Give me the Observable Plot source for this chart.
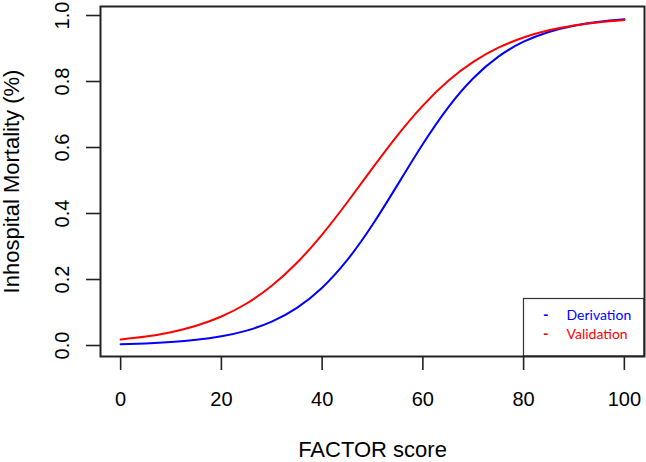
<!DOCTYPE html>
<html><head><meta charset="utf-8">
<script src="https://cdn.jsdelivr.net/npm/d3@7"></script>
<script src="https://cdn.jsdelivr.net/npm/@observablehq/plot@0.6"></script>
<style>
body{margin:0;background:#fff;}
#wrap{position:relative;width:646px;height:462px;}
</style></head><body><div id="wrap"></div>
<script>
const scores = [0,5,10,15,20,25,30,35,40,45,50,55,60,65,70,75,80,85,90,95,100];
const derivation = [0.0039,0.0064,0.0105,0.0171,0.0279,0.0452,0.0724,0.1141,0.1751,0.2592,0.3659,0.4875,0.6106,0.7211,0.8100,0.8754,0.9206,0.9502,0.9692,0.9811,0.9885];
const validation = [0.0180,0.0270,0.0403,0.0598,0.0879,0.1273,0.1809,0.2507,0.3363,0.4341,0.5374,0.6376,0.7271,0.8014,0.8594,0.9025,0.9334,0.9551,0.9698,0.9799,0.9866];
const xTicks = [0,20,40,60,80,100];
const yTicks = [0,0.2,0.4,0.6,0.8,1.0];
const seriesNames = ["Derivation","Validation"];
const seriesColors = ["#0000ff","#ff0000"];
const xTitle = "FACTOR score";
const yTitle = "Inhospital Mortality (%)";

const data = [];
seriesNames.forEach((name, k) => {
  const vals = k === 0 ? derivation : validation;
  scores.forEach((s, i) => data.push({score: s, value: vals[i], series: name}));
});

const plot = Plot.plot({
  width: 646,
  height: 462,
  marginLeft: 100,
  marginRight: 2,
  marginTop: 6,
  marginBottom: 106,
  style: {fontFamily: "'Liberation Sans', Arial, sans-serif", background: "#fff", color: "#000"},
  x: {domain: [-4, 104]},
  y: {domain: [-0.0333, 1.0273]},
  color: {domain: seriesNames, range: seriesColors},
  marks: [
    Plot.line(data, {x: "score", y: "value", z: "series", stroke: "series", strokeWidth: 2, curve: "natural"}),
    Plot.axisX({ticks: xTicks, tickSize: 14, tickPadding: 21, fontSize: 20, label: null, strokeWidth: 1.6, stroke: "#222"}),
    Plot.axisY({ticks: yTicks, tickSize: 14, tickPadding: 18, tickRotate: -90, fontSize: 20, label: null, tickFormat: d3.format(".1f"), strokeWidth: 1.6, stroke: "#222"}),
    Plot.text([xTitle], {frameAnchor: "bottom", textAnchor: "middle", lineAnchor: "bottom", dy: 100, fontSize: 22, fill: "#000"}),
    Plot.text([yTitle], {frameAnchor: "left", textAnchor: "middle", lineAnchor: "bottom", rotate: -90, dx: -81.5, fontSize: 22, fill: "#000"}),
    Plot.frame({stroke: "#222", strokeWidth: 2})
  ]
});
document.getElementById("wrap").appendChild(plot);

// legend inside the plot area (bottom-right)
const svg = d3.select(plot);
const lg = svg.append("g").attr("class", "legend");
lg.append("rect").attr("x", 523.5).attr("y", 298.5).attr("width", 120.5).attr("height", 57.5)
  .attr("fill", "#fff").attr("stroke", "#333").attr("stroke-width", 1.2);
seriesNames.forEach((name, k) => {
  const by = 320 + k * 19;
  lg.append("text").attr("x", 545.7).attr("y", by).attr("text-anchor", "middle")
    .attr("fill", seriesColors[k]).style("font-family", "Lato, 'Open Sans', sans-serif").style("font-size", "15px").style("font-weight", "bold").text("-");
  lg.append("text").attr("x", 566.5).attr("y", by).attr("text-anchor", "start")
    .attr("fill", seriesColors[k]).style("font-family", "Lato, 'Open Sans', sans-serif").style("font-size", "14px").text(name);
});
svg.select('[aria-label="frame"]').raise();
</script>
</body></html>
